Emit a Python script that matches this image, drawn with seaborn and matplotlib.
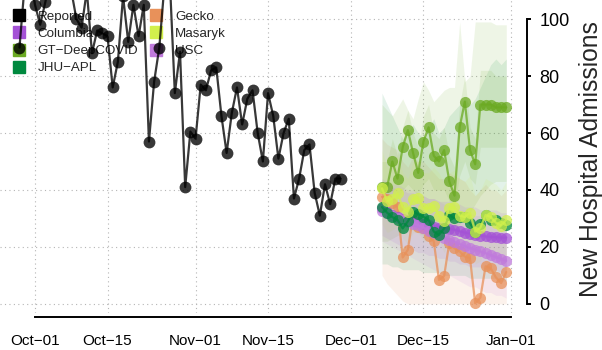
import matplotlib
matplotlib.use("Agg")
import matplotlib.pyplot as plt
import matplotlib.dates as mdates
from matplotlib.lines import Line2D
import pandas as pd
import seaborn as sns

# Reported admissions (daily, Sep 28 - Nov 29); values above ~106 run off the top
reported_dates = pd.date_range("2020-09-28", "2020-11-29", freq="D")
reported = [90, 112, 115, 105, 98, 106, 115, 120, 112, 118, 110, 100, 97, 110, 88,
            96, 95, 94, 76, 85, 108, 92, 105, 94, 105, 57, 78, 90, 112, 115, 74,
            88.5, 41, 60.5, 58, 77, 75, 82, 83, 66, 53, 67, 76, 63, 72, 75, 60, 50,
            74, 66, 51, 60, 65, 37, 44, 54, 56, 39, 31, 42, 35, 44, 44]

# Forecasts (Dec 7 - Dec 31)
forecast_dates = pd.date_range("2020-12-07", "2020-12-31", freq="D")
columbia = [33.6, 32.4, 31.3, 30.4, 29.8, 29.4, 29.1, 28.8, 28.2, 27.6, 27.1, 26.8, 26.6,
            26.3, 26.0, 25.5, 25.0, 24.6, 24.3, 24.0, 23.7, 23.5, 23.4, 23.3, 23.3]
gt_deepcovid = [41, 41, 50, 44, 55, 61, 53, 46, 57, 62, 52, 50, 54, 43, 38, 62, 71, 54,
                49, 70, 70, 70, 69, 69, 69]
jhu_apl = [34, 32, 30.5, 29.5, 26.5, 29, 32.4, 31.5, 30.6, 29.5, 25.4, 24.2, 26.5, 31.2,
           30, 30.6, 30.6, 28.3, 25.4, 28, 31.2, 29.5, 29.5, 28.5, 27.7]
gecko = [37.6, 36.8, 35.5, 34, 16.3, 19, 31, 27, 26.5, 24, 22, 8.4, 9.8, 21.5, 19.5,
         18.4, 16.6, 16, 0.2, 2.2, 13.2, 12.5, 9.3, 7.3, 11.2]
masaryk = [40.6, 36, 37, 38.8, 34, 32.4, 37, 37.3, 33.6, 33.6, 34.5, 31, 29, 33.6, 34,
           31, 30.5, 32, 25.4, 26.8, 31.2, 30.5, 28.5, 27.5, 29.5]
usc = [32.5, 31.8, 31.0, 30.2, 29.5, 28.9, 28.2, 27.6, 26.8, 25.7, 24.8, 24.1, 23.3,
       22.5, 21.8, 21.0, 20.2, 19.6, 19.0, 18.4, 17.8, 17.1, 16.4, 15.8, 15.1]

# 95% intervals (plus a 50% one for GT-DeepCOVID)
columbia_lo = [24, 23, 22, 21, 20, 20, 19, 18, 18, 17, 17, 16, 16, 15, 15, 14, 14, 13, 13, 13, 12, 12, 12, 11, 11]
columbia_hi = [43, 42, 41, 40, 40, 39, 39, 38, 38, 37, 37, 36, 36, 36, 35, 35, 34, 34, 34, 33, 33, 33, 33, 32, 32]
gt_lo = [22, 22, 23, 24, 25, 26, 26, 25, 24, 25, 25, 24, 24, 25, 26, 28, 30, 32, 35, 38, 40, 42, 43, 43, 43]
gt_hi = [70, 68, 66, 69, 72, 68, 65, 72, 78, 75, 71, 73, 75, 76, 76, 99, 78, 80, 99, 99, 99, 99, 98, 98, 98]
gt_lo50 = [33, 34, 36, 37, 40, 42, 40, 38, 42, 44, 40, 40, 40, 36, 34, 45, 50, 44, 42, 55, 55, 55, 55, 55, 55]
gt_hi50 = [50, 50, 58, 52, 62, 68, 60, 55, 66, 70, 60, 58, 62, 52, 48, 70, 80, 62, 58, 82, 82, 82, 80, 80, 80]
jhu_lo = [14, 14, 13, 13, 12, 12, 12, 12, 11, 11, 11, 11, 10, 10, 10, 10, 10, 9, 9, 9, 9, 9, 9, 8, 8]
jhu_hi = [74, 70, 66, 62, 58, 60, 63, 60, 58, 62, 65, 60, 62, 66, 68, 70, 72, 70, 72, 76, 80, 84, 86, 84, 86]
gecko_lo = [10, 7, 5, 3, 1, 0, 0, 0, 0, 0, 0, 0, 0, 0, 0, 0, 0, 0, 0, 0, 0, 0, 0, 0, 0]
gecko_hi = [58, 56, 55, 54, 50, 48, 52, 50, 50, 48, 46, 44, 44, 46, 45, 44, 43, 40, 38, 40, 42, 40, 40, 38, 40]
masaryk_lo = [28, 25, 26, 27, 23, 21, 25, 25, 22, 22, 23, 22, 18, 22, 22, 19, 18, 20, 14, 15, 19, 18, 16, 15, 17]
masaryk_hi = [54, 48, 50, 52, 46, 44, 50, 50, 46, 46, 48, 46, 42, 46, 47, 44, 43, 45, 38, 40, 44, 43, 42, 40, 43]
usc_lo = [22, 21, 20, 19, 18, 17, 16, 15, 14, 13, 12, 11, 10, 10, 9, 8, 7, 6, 6, 5, 4, 4, 3, 3, 2]
usc_hi = [44, 43, 42, 42, 41, 40, 40, 39, 38, 37, 37, 36, 35, 35, 34, 33, 33, 32, 31, 31, 30, 29, 29, 28, 28]

tick_dates = pd.to_datetime(["2020-10-01", "2020-10-15", "2020-11-01", "2020-11-15",
                             "2020-12-01", "2020-12-15", "2021-01-01"])
tick_labels = ["Oct\u221201", "Oct\u221215", "Nov\u221201", "Nov\u221215",
               "Dec\u221201", "Dec\u221215", "Jan\u221201"]
y_ticks = [0, 20, 40, 60, 80, 100]

colors = {"Reported": "#000000", "Columbia": "#A452D6", "GT\u2212DeepCOVID": "#6BAA22",
          "JHU\u2212APL": "#00893F", "Gecko": "#E8915A", "Masaryk": "#D2F04C", "USC": "#C07ADC"}

sns.set_style("white")
plt.rcParams["font.family"] = ["Liberation Sans", "DejaVu Sans"]

fig = plt.figure(figsize=(6.02, 3.5), dpi=100)
ax = fig.add_axes([0, 37 / 350, 513 / 602, 313 / 350])

# intervals
bands = [("Gecko", gecko_lo, gecko_hi), ("JHU\u2212APL", jhu_lo, jhu_hi),
         ("GT\u2212DeepCOVID", gt_lo, gt_hi), ("GT\u2212DeepCOVID", gt_lo50, gt_hi50),
         ("Masaryk", masaryk_lo, masaryk_hi), ("Columbia", columbia_lo, columbia_hi),
         ("USC", usc_lo, usc_hi)]
for name, lo, hi in bands:
    ax.fill_between(forecast_dates, lo, hi, color=colors[name], alpha=0.11, linewidth=0, zorder=1)

# reported
sns.lineplot(x=reported_dates, y=reported, ax=ax, color="black", alpha=0.78,
             marker="o", markersize=8.5, markeredgewidth=0, linewidth=1.6, zorder=3)

series = [("Gecko", gecko), ("Columbia", columbia), ("USC", usc),
          ("GT\u2212DeepCOVID", gt_deepcovid), ("JHU\u2212APL", jhu_apl), ("Masaryk", masaryk)]
for name, vals in series:
    sns.lineplot(x=forecast_dates, y=vals, ax=ax, color=colors[name], alpha=0.75,
                 marker="o", markersize=8, markeredgewidth=0, linewidth=1.6, zorder=3)

ax.set_xlim(pd.Timestamp("2020-10-01") - pd.Timedelta(days=6.76),
            pd.Timestamp("2021-01-01") + pd.Timedelta(days=0.3))
ax.set_ylim(-3.2, 106.7)

ax.set_xticks(tick_dates)
ax.set_xticklabels(tick_labels)
ax.set_yticks(y_ticks)
ax.set_yticklabels([str(v) for v in y_ticks], rotation=90, va="center")
ax.yaxis.tick_right()
ax.yaxis.set_label_position("right")

ax.grid(True, linestyle=(0, (1, 3)), color="#B5B5B5", linewidth=0.8, zorder=0)
ax.set_axisbelow(True)

for s in ["top", "left"]:
    ax.spines[s].set_visible(False)
ax.spines["bottom"].set_position(("outward", 3))
ax.spines["bottom"].set_bounds(mdates.date2num(tick_dates[0]), mdates.date2num(tick_dates[-1]))
ax.spines["right"].set_position(("outward", 10))
ax.spines["right"].set_bounds(0, 100)
for s in ["bottom", "right"]:
    ax.spines[s].set_linewidth(1.4)
    ax.spines[s].set_color("black")
ax.tick_params(axis="x", direction="out", length=3, width=1.4, pad=9, labelsize=11, colors="black")
ax.tick_params(axis="y", direction="out", length=3, width=1.4, pad=6, labelsize=13, colors="black",
               left=False, right=True)

ax.set_xlabel("")
ax.set_ylabel("New Hospital Admissions", fontsize=17.7, rotation=90)
ax.yaxis.set_label_coords(591 / 513, 0.492)
ax.yaxis.label.set_horizontalalignment("center")
ax.yaxis.label.set_verticalalignment("center")

handles = [Line2D([], [], marker="s", linestyle="", color=c, markersize=8) for c in colors.values()]
leg = ax.legend(handles, list(colors.keys()), loc="upper left", bbox_to_anchor=(12.5 / 513, 0.966),
                ncol=2, frameon=False, fontsize=9.6, handlelength=0.9, handletextpad=1.0,
                columnspacing=0.85, labelspacing=0.36, borderpad=0, borderaxespad=0)
leg.set_zorder(2)

fig.savefig("out.png", dpi=100)
